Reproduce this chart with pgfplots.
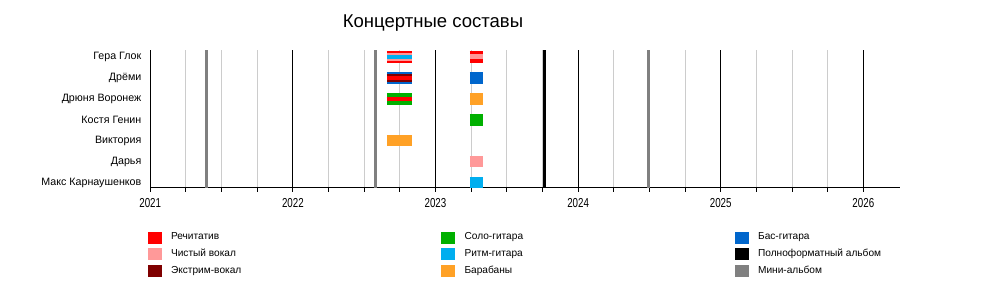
\documentclass[border=0pt]{standalone}
\usepackage{pgfplots}
\pgfplotsset{compat=1.18}
\usepackage{graphicx}
\usepackage{fontspec}
\setmainfont{Liberation Sans}
\definecolor{rech}{HTML}{FF0000}
\definecolor{clean}{HTML}{FF9999}
\definecolor{extr}{HTML}{7F0000}
\definecolor{lead}{HTML}{00B000}
\definecolor{rhythm}{HTML}{00AEEF}
\definecolor{drums}{HTML}{FFA126}
\definecolor{bass}{HTML}{0066CC}
\definecolor{lp}{HTML}{000000}
\definecolor{ep}{HTML}{808080}
\definecolor{mgrid}{HTML}{CCCCCC}
\pgfplotsset{sq/.style={legend image code/.code={\fill[#1] (0pt,-4.125pt) rectangle (9.75pt,4.125pt);}}}
\begin{document}
\begin{tikzpicture}
\begin{axis}[
  scale only axis, width=562.3pt, height=103.5pt,
  xmin=2021, xmax=2026.257, ymin=0.737, ymax=7.325,
  clip=false,
  axis x line*=bottom, axis y line*=left,
  x axis line style={-, line width=0.75pt},
  y axis line style={draw=none},
  xtick={2021,2022,2023,2024,2025,2026},
  minor x tick num=3,
  xmajorgrids, xminorgrids,
  major grid style={black, line width=0.75pt},
  minor grid style={mgrid, line width=0.75pt},
  tick align=outside,
  major tick length=3pt, minor tick length=3pt,
  xtick style={black, line width=0.75pt},
  ytick={1,2,3,4,5,6,7},
  yticklabels={Макс Карнаушенков, Дарья, Виктория, Костя Генин, Дрюня Воронеж, Дрёми, Гера Глок},
  ytick style={draw=none},
  /pgf/number format/.cd, 1000 sep={}, assume math mode=true,
  /pgfplots/.cd,
  xticklabel style={font=\fontsize{9.75}{11}\selectfont, inner sep=0pt, anchor=base, yshift=-11.5pt},
  xticklabel={\scalebox{0.75}[1]{\pgfmathprintnumber{\tick}}},
  yticklabel style={font=\fontsize{8}{9}\selectfont, inner sep=0pt, anchor=east, xshift=-3.5pt},
  title={Концертные составы},
  every axis title/.style={at={(rel axis cs:0.3771,1.1616)}, anchor=base, font=\fontsize{13.9}{16}\selectfont, inner sep=0pt},
  legend style={at={(rel axis cs:-0.004,-0.314)}, anchor=north west, draw=none, fill=none, inner sep=0pt,
    font=\fontsize{7.6}{9}\selectfont, /tikz/column sep=7.5pt, /tikz/row sep=4pt, nodes={inner sep=0pt}},
  legend columns=3, legend cell align=left,
]
% invisible bounding box of the whole picture
\path (rel axis cs:-0.2004,1.3623) rectangle (rel axis cs:1.1334,-0.7971);

% albums
\addplot[ep, line width=2.25pt, forget plot] coordinates {(2021.395,0.737) (2021.395,7.325)};
\addplot[ep, line width=2.25pt, forget plot] coordinates {(2022.579,0.737) (2022.579,7.325)};
\addplot[lp, line width=2.5pt, forget plot] coordinates {(2023.766,0.737) (2023.766,7.325)};
\addplot[ep, line width=2.25pt, forget plot] coordinates {(2024.494,0.737) (2024.494,7.325)};

% Гера Глок
\addplot[rech, line width=8.8pt, forget plot] coordinates {(2022.66,7) (2022.835,7)};
\addplot[clean, line width=6.25pt, forget plot] coordinates {(2022.66,7) (2022.835,7)};
\addplot[rhythm, line width=3.25pt, forget plot] coordinates {(2022.66,7) (2022.835,7)};
\addplot[rech, line width=8.8pt, forget plot] coordinates {(2023.242,7) (2023.331,7)};
\addplot[clean, line width=3.5pt, forget plot] coordinates {(2023.242,7) (2023.331,7)};
% Дрёми
\addplot[bass, line width=8.8pt, forget plot] coordinates {(2022.66,6) (2022.835,6)};
\addplot[extr, line width=5.75pt, forget plot] coordinates {(2022.66,6) (2022.835,6)};
\addplot[rech, line width=3.25pt, forget plot] coordinates {(2022.66,6) (2022.835,6)};
\addplot[bass, line width=8.8pt, forget plot] coordinates {(2023.242,6) (2023.331,6)};
% Дрюня Воронеж
\addplot[lead, line width=8.8pt, forget plot] coordinates {(2022.66,5) (2022.835,5)};
\addplot[rech, line width=3pt, forget plot] coordinates {(2022.66,5) (2022.835,5)};
\addplot[drums, line width=8.8pt, forget plot] coordinates {(2023.242,5) (2023.331,5)};
% Костя Генин
\addplot[lead, line width=8.8pt, forget plot] coordinates {(2023.242,4) (2023.331,4)};
% Виктория
\addplot[drums, line width=8.8pt, forget plot] coordinates {(2022.66,3) (2022.835,3)};
% Дарья
\addplot[clean, line width=8.8pt, forget plot] coordinates {(2023.242,2) (2023.331,2)};
% Макс Карнаушенков
\addplot[rhythm, line width=8.8pt, forget plot] coordinates {(2023.242,1) (2023.331,1)};

% legend
\addlegendimage{sq=rech}
\addlegendentry{\makebox[195pt][l]{Речитатив}}
\addlegendimage{sq=lead}
\addlegendentry{\makebox[195pt][l]{Соло-гитара}}
\addlegendimage{sq=bass}
\addlegendentry{Бас-гитара}
\addlegendimage{sq=clean}
\addlegendentry{\makebox[195pt][l]{Чистый вокал}}
\addlegendimage{sq=rhythm}
\addlegendentry{\makebox[195pt][l]{Ритм-гитара}}
\addlegendimage{sq=lp}
\addlegendentry{Полноформатный альбом}
\addlegendimage{sq=extr}
\addlegendentry{\makebox[195pt][l]{Экстрим-вокал}}
\addlegendimage{sq=drums}
\addlegendentry{\makebox[195pt][l]{Барабаны}}
\addlegendimage{sq=ep}
\addlegendentry{Мини-альбом}
\end{axis}
\end{tikzpicture}
\end{document}
